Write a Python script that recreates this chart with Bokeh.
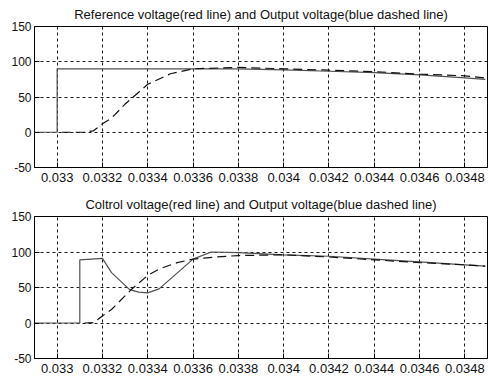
from bokeh.plotting import figure
from bokeh.layouts import column
from bokeh.models import FixedTicker, Range1d
from bokeh.embed import file_html
from bokeh.resources import INLINE

# ---- data ----
x_ticks = [0.033, 0.0332, 0.0334, 0.0336, 0.0338, 0.034, 0.0342, 0.0344, 0.0346, 0.0348]
x_labels = ["0.033", "0.0332", "0.0334", "0.0336", "0.0338", "0.034", "0.0342", "0.0344", "0.0346", "0.0348"]
y_ticks = [-50, 0, 50, 100, 150]
y_labels = ["-50", "0", "50", "100", "150"]

# top: reference voltage (red) and output voltage (blue dashed)
ref_t = [0.0329, 0.03300, 0.03300, 0.0336, 0.0338, 0.0340, 0.0342, 0.0344, 0.0346, 0.0348, 0.03489]
ref_v = [0, 0, 90, 90, 90, 88.5, 86.5, 84.5, 81.5, 77, 75]
out1_t = [0.03302, 0.03312, 0.03316, 0.0332, 0.03324, 0.0333, 0.0334, 0.0335, 0.0336, 0.0338, 0.0340, 0.0342, 0.0344, 0.0346, 0.0348, 0.03489]
out1_v = [0, 0, 2, 12, 20, 40, 68, 83, 90, 92, 90, 88, 86, 82.5, 80, 77]

# bottom: control voltage (red) and output voltage (blue dashed)
ctl_t = [0.0329, 0.0331, 0.0331, 0.0332, 0.03324, 0.03332, 0.03336, 0.0334, 0.03345, 0.0336, 0.03368, 0.0338, 0.0340, 0.0342, 0.0344, 0.0346, 0.0348, 0.03489]
ctl_v = [0, 0, 89, 91, 71, 47, 43.5, 42.5, 48, 90, 100, 99, 96, 94, 90, 86, 82, 80]
out2_t = [0.03312, 0.03316, 0.0332, 0.03324, 0.03333, 0.0334, 0.03345, 0.03353, 0.0336, 0.0337, 0.0338, 0.0340, 0.0342, 0.0344, 0.0346, 0.0348, 0.03489]
out2_v = [0, 0.5, 10, 19, 48, 67, 76, 85, 90, 93, 95, 96, 93, 89, 85, 82, 80]

titles = ["Reference voltage(red line) and Output voltage(blue dashed line)",
          "Coltrol voltage(red line) and Output voltage(blue dashed line)"]

FONT = "Liberation Sans"
RED = "#505050"
BLUE = "#111111"


def make(title, height, st, sv, dt, dv):
    p = figure(width=488, height=height, output_backend="svg", toolbar_location=None,
               x_range=Range1d(0.0329, 0.0349), y_range=Range1d(-50, 150),
               min_border_left=34, min_border_right=1, min_border_top=26, min_border_bottom=23)
    p.title.text = title
    p.title.text_font = FONT
    p.title.text_font_size = "13px"
    p.title.text_font_style = "normal"
    p.title.align = "center"
    p.title.text_color = "#111111"
    p.title.standoff = 9
    p.outline_line_color = "black"
    p.outline_line_width = 1
    p.outline_line_alpha = 1
    p.background_fill_color = "white"
    p.border_fill_color = "white"

    p.xaxis.ticker = FixedTicker(ticks=x_ticks)
    p.xaxis.major_label_overrides = {t: l for t, l in zip(x_ticks, x_labels)}
    p.yaxis.ticker = FixedTicker(ticks=y_ticks)
    p.yaxis.major_label_overrides = {t: l for t, l in zip(y_ticks, y_labels)}
    for ax in (p.xaxis, p.yaxis):
        ax.major_tick_in = 5
        ax.major_tick_out = 0
        ax.minor_tick_in = 0
        ax.minor_tick_out = 0
        ax.axis_line_color = "black"
        ax.major_tick_line_color = "black"
        ax.major_label_text_font = FONT
        ax.major_label_text_color = "#111111"
    p.xaxis.major_label_text_font_size = "13px"
    p.yaxis.major_label_text_font_size = "12px"
    p.xaxis.major_label_standoff = 5
    p.yaxis.major_label_standoff = 3

    for g in (p.xgrid, p.ygrid):
        g.grid_line_color = "black"
        g.grid_line_dash = "3 3"
        g.grid_line_width = 1
        g.grid_line_alpha = 0.9

    p.line(st, sv, line_color=RED, line_width=1.2)
    p.line(dt, dv, line_color=BLUE, line_width=1.2, line_dash="9 5")
    return p


p1 = make(titles[0], 190, ref_t, ref_v, out1_t, out1_v)
p2 = make(titles[1], 191, ctl_t, ctl_v, out2_t, out2_v)
layout = column(p1, p2, spacing=0)

open("out.html", "w").write(file_html(layout, INLINE))
